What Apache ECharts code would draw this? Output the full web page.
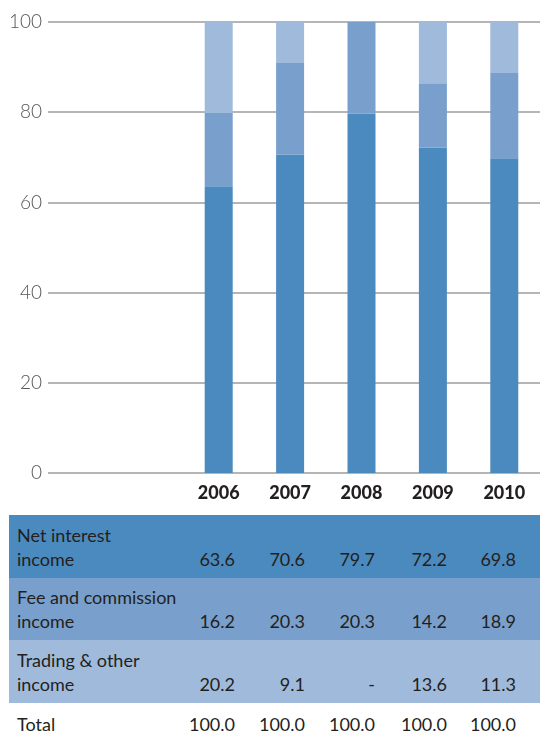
<!DOCTYPE html>
<html>
<head>
<meta charset="utf-8">
<script src="https://cdn.jsdelivr.net/npm/echarts@6/dist/echarts.min.js"></script>
<style>
  html, body { margin: 0; padding: 0; background: #fff; }
  body { width: 540px; height: 733px; position: relative; overflow: hidden;
         font-family: Lato, "Open Sans", sans-serif; color: #231f20; }
  #chart { position: absolute; left: 0; top: 0; width: 540px; height: 510px; }
  #table { position: absolute; left: 9px; top: 515px; width: 531px; }
  .row { position: relative; height: 62.5px; }
  .total { position: relative; height: 30px; }
  .label { position: absolute; left: 8px; top: 7.5px; font-size: 18px; line-height: 24px; white-space: nowrap; }
  .val { position: absolute; font-size: 18px; line-height: 24px; text-align: right; white-space: nowrap; }
</style>
</head>
<body>
<div id="chart"></div>
<div id="table"></div>
<script>
// Income composition by year, % of total
const years = ['2006', '2007', '2008', '2009', '2010'];
const netInterest = [63.6, 70.6, 79.7, 72.2, 69.8];
const feeCommission = [16.2, 20.3, 20.3, 14.2, 18.9];
const tradingOther = [20.2, 9.1, null, 13.6, 11.3];
const totals = [100.0, 100.0, 100.0, 100.0, 100.0];
const yTicks = [0, 20, 40, 60, 80, 100];

const rowLabels = [
  ['Net interest', 'income'],
  ['Fee and commission', 'income'],
  ['Trading & other', 'income']
];
const colors = ['#4b8abf', '#79a0cc', '#a0badb'];
const seriesData = [netInterest, feeCommission, tradingOther];

const chart = echarts.init(document.getElementById('chart'));
const font = 'Lato, "Open Sans", sans-serif';

chart.setOption({
  animation: false,
  grid: [
    // full-width grid carrying the value scale and its rules
    { left: 48, right: 0, top: 22, bottom: 37 },
    // narrower grid holding the year columns
    { left: 183, width: 363.8, top: 22, bottom: 37 }
  ],
  xAxis: [
    { gridIndex: 0, type: 'value', show: false, min: 0, max: 1 },
    {
      gridIndex: 1, type: 'category', data: years,
      axisLine: { show: false }, axisTick: { show: false },
      axisLabel: {
        color: '#231f20', fontFamily: font, fontWeight: 900, fontSize: 18,
        lineHeight: 18, margin: 11
      }
    }
  ],
  yAxis: [
    {
      gridIndex: 0, type: 'value', min: yTicks[0], max: yTicks[yTicks.length - 1], interval: 20,
      axisLine: { show: false }, axisTick: { show: false },
      axisLabel: { color: '#555', fontFamily: font, fontWeight: 300, fontSize: 19, margin: 6 },
      splitLine: { lineStyle: { color: '#b5b5b5', width: 2 } }
    },
    { gridIndex: 1, type: 'value', min: 0, max: 100, show: false }
  ],
  series: seriesData.map((d, i) => ({
    type: 'bar',
    name: rowLabels[i].join(' '),
    xAxisIndex: 1, yAxisIndex: 1,
    stack: 'income',
    barWidth: 28,
    itemStyle: { color: colors[i] },
    data: d
  }))
});

// Data table beneath the columns
const table = document.getElementById('table');
const colRight = [226, 296, 366, 438, 507];
const fmt = v => (v === null || v === undefined) ? '-' : v.toFixed(1);

function addValues(row, values, top) {
  values.forEach((v, j) => {
    const s = document.createElement('div');
    s.className = 'val';
    s.style.top = top + 'px';
    s.style.right = (531 - colRight[j]) + 'px';
    s.textContent = fmt(v);
    row.appendChild(s);
  });
}

seriesData.forEach((d, i) => {
  const row = document.createElement('div');
  row.className = 'row';
  row.style.background = colors[i];
  const lab = document.createElement('div');
  lab.className = 'label';
  lab.innerHTML = rowLabels[i].map(t => t.replace(/&/g, '&amp;')).join('<br>');
  row.appendChild(lab);
  addValues(row, d, 31.5);
  table.appendChild(row);
});

const totalRow = document.createElement('div');
totalRow.className = 'total';
const tl = document.createElement('div');
tl.className = 'label';
tl.style.top = '9px';
tl.textContent = 'Total';
totalRow.appendChild(tl);
addValues(totalRow, totals, 9);
table.appendChild(totalRow);
</script>
</body>
</html>
